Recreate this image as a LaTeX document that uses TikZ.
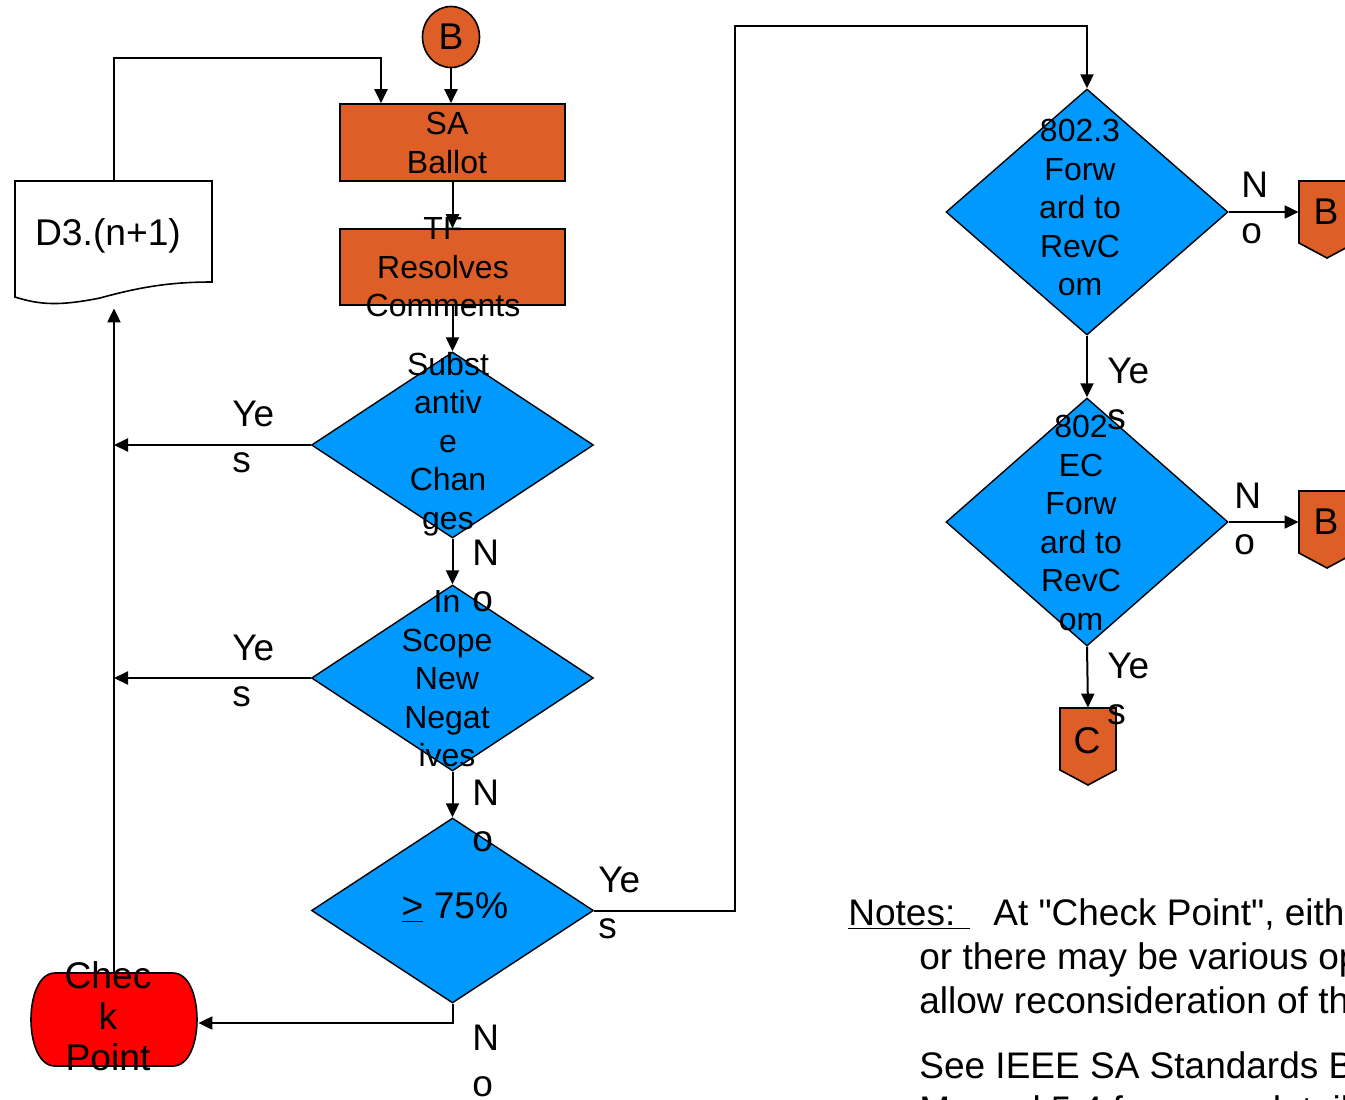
\documentclass[tikz,border=0pt]{standalone}
\usepackage{fontspec}
\setmainfont{Liberation Sans}
\usetikzlibrary{shapes.geometric,arrows.meta}
\definecolor{ora}{RGB}{221,94,38}
\definecolor{dblue}{RGB}{0,153,255}
\definecolor{cpred}{RGB}{255,0,0}
\begin{document}
\begin{tikzpicture}[x=0.5pt,y=-0.5pt,
  conn/.style={line width=1pt,-{Triangle[length=7pt,width=6.5pt]}},
  dia/.style={diamond,draw=black,line width=0.7pt,fill=dblue,inner sep=0pt,minimum width=141pt},
  box/.style={rectangle,draw=black,line width=0.8pt,fill=ora,inner sep=0pt,minimum width=112.5pt},
  shp/.style={line width=0.8pt,draw=black},
  txt/.style={inner sep=0pt,align=center,text depth=0pt,font=\fontsize{16pt}{19.25pt}\selectfont},
  big/.style={inner sep=0pt,align=center,text depth=0pt,font=\fontsize{18.6pt}{20.5pt}\selectfont},
  lbl/.style={inner sep=0pt,align=left,text depth=0pt,anchor=south west,font=\fontsize{18.5pt}{23pt}\selectfont},
  ghost/.style={inner sep=0pt,draw=none,rectangle}]
\useasboundingbox (0,0) rectangle (1345,1099);
\clip (0,0) rectangle (1345,1099);
\fill[white] (0,0) rectangle (1345,1099);

% shapes
\node[ellipse,draw=black,line width=0.8pt,fill=ora,minimum width=28.5pt,minimum height=30.5pt,inner sep=0pt] (bc) at (451,37) {};
\node[box,minimum height=38.5pt] (sa) at (452.5,142.5) {};
\node[box,minimum height=38pt] (tfb) at (452.5,267) {};
\node[dia,minimum height=93pt] (d1) at (452.5,445) {};
\node[dia,minimum height=93pt] (d2) at (452.5,678) {};
\node[dia,minimum height=92.5pt] (d3) at (452.5,910.5) {};
\node[dia,minimum height=123pt] (d4) at (1087,212) {};
\node[dia,minimum height=124pt] (d5) at (1087,522) {};

% document shape
\node[ghost,minimum width=98.5pt,minimum height=63.5pt] (doc) at (114,244.5) {};
\draw[shp,fill=white] (15,181) -- (212,181) -- (212,282) .. controls (170,282) and (140,287) .. (100,298) .. controls (60,306) and (40,305) .. (15,297) -- cycle;

% check point shape
\node[ghost,minimum width=84pt,minimum height=50pt] (cp) at (114,1023) {};
\draw[shp,fill=cpred] (55,973) -- (173,973) .. controls (205,973) and (205,1066) .. (173,1066) -- (55,1066) .. controls (23,1066) and (23,973) .. (55,973) -- cycle;

% off-page connectors
\draw[shp,fill=ora] (1299,181) -- (1355,181) -- (1355,243) -- (1327,258) -- (1299,243) -- cycle;
\node[ghost,minimum width=28pt,minimum height=31pt] (bx1) at (1327,212) {};
\draw[shp,fill=ora] (1299,491) -- (1355,491) -- (1355,553) -- (1327,568) -- (1299,553) -- cycle;
\node[ghost,minimum width=28pt,minimum height=31pt] (bx2) at (1327,522) {};
\draw[shp,fill=ora] (1060,708) -- (1116,708) -- (1116,770) -- (1088,785) -- (1060,770) -- cycle;
\node[ghost,minimum width=28pt,minimum height=31pt] (cx) at (1088,739) {};

% connectors
\coordinate (j1) at (381,58);
\coordinate (y1) at (735,26);
\draw[conn] (bc.south) -- (bc.south |- sa.north);
\draw[conn] (doc.north) |- (j1) -- (j1 |- sa.north);
\draw[conn] (sa.south) -- (tfb.north);
\draw[conn] (tfb.south) -- (d1.north);
\draw[conn] (d1.south) -- (d2.north);
\draw[conn] (d2.south) -- (d3.north);
\draw[conn] (d1.west) -- (d1.west -| cp.north);
\draw[conn] (d2.west) -- (d2.west -| cp.north);
\draw[conn] (d3.south) |- (cp.east);
\draw[conn] (cp.north) -- (doc.south);
\draw[conn] (d3.east) -| (y1) -| (d4.north);
\draw[conn] (d4.east) -- (bx1.west);
\draw[conn] (d4.south) -- (d5.north);
\draw[conn] (d5.east) -- (bx2.west);
\draw[conn] (d5.south) -- (cx.north);

% texts
\node[big] (bct) at (451,37) {B};
\node[txt] (sat) at (447,143) {SA\\Ballot};
\node[txt] (tft) at (443,267) {TF\\Resolves\\Comments};
\node[big] (doct) at (108,232) {D3.(n+1)};
\node[txt] (d1t) at (448,440.5) {Subst\\antiv\\e\\Chan\\ges};
\node[txt] (d2t) at (447,678.5) {In\\Scope\\New\\Negat\\ives};
\node[big] (d3t) at (455,906) {\underline{>} 75\%};
\node[big] (cpt) at (108,1016) {Chec\\k\\Point};
\node[txt] (d4t) at (1080,207.5) {802.3\\Forw\\ard to\\RevC\\om};
\node[txt] (d5t) at (1081,523) {802\\EC\\Forw\\ard to\\RevC\\om};
\node[big] (b1t) at (1326,212) {B};
\node[big] (b2t) at (1326,522) {B};
\node[big] (ct) at (1087,740) {C};

% labels
\node[lbl] (l1) at (232,473) {Ye\\s};
\node[lbl] (l2) at (232,707) {Ye\\s};
\node[lbl] (l3) at (472,612) {N\\o};
\node[lbl] (l4) at (472,852) {N\\o};
\node[lbl] (l5) at (598,939) {Ye\\s};
\node[lbl] (l6) at (472,1097) {N\\o};
\node[lbl] (l7) at (1107,430) {Ye\\s};
\node[lbl] (l8) at (1241,244) {N\\o};
\node[lbl] (l9) at (1107,725) {Ye\\s};
\node[lbl] (l10) at (1234,555) {N\\o};

% notes
\node[inner sep=0pt,anchor=north west,align=left,font=\fontsize{18.5pt}{22pt}\selectfont] (notes) at (848,898.5)
 {\underline{Notes:\hspace{7.5pt}}\hspace{11.5pt}At \textquotedbl Check Point\textquotedbl, either the draft\\
  \hspace*{35.5pt}or there may be various options to\\
  \hspace*{35.5pt}allow reconsideration of the ballot\\[10.5pt]
  \hspace*{35.5pt}See IEEE SA Standards Board\\
  \hspace*{35.5pt}Manual 5.4 for more details};
\end{tikzpicture}
\end{document}
